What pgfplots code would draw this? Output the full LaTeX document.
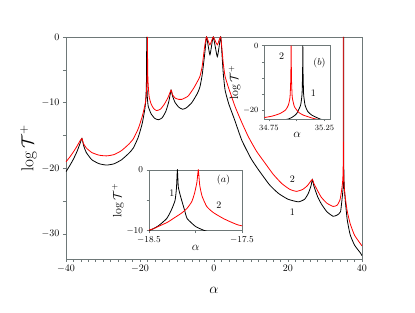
\documentclass[border=0pt]{standalone}
\usepackage{pgfplots}
\usepackage{pgfplotstable}
\pgfplotsset{compat=1.18}
\definecolor{axgray}{RGB}{110,120,120}

\pgfplotstableread{
a T
-40 -20.5
-39 -19.6
-38 -18.6
-37 -17.4
-36.2 -16.2
-35.7 -15.45
-35.2 -16.6
-34.5 -17.6
-33 -18.7
-31 -19.3
-29 -19.5
-27 -19.3
-25 -18.7
-23 -17.7
-21.8 -16.9
-20.5 -15.3
-19.5 -13.4
-19.1 -12.3
-18.7 -11
-18.5 -10
-18.4 -9.2
-18.31 -8.0
-18.26 -6.6
-18.22 -5.0
-18.205 -3.0
-18.195 0
-18.185 -2.8
-18.16 -4.4
-18.12 -6.5
-18.09 -8.0
-18.0 -9.3
-17.9 -10.0
-17.76 -10.6
-17.5 -11.0
-17 -11.7
-16 -12.4
-15 -12.6
-14 -12.3
-13 -11.3
-12.2 -9.8
-11.6 -8.1
-11.2 -9.0
-10.5 -10.0
-9.5 -10.7
-8.5 -11.0
-7.5 -10.8
-6 -10.0
-4.5 -8.6
-3.8 -7.6
-3.2 -5.8
-2.7 -3.5
-2.4 -2.0
-2.0 0
-1.1 -2.7
-0.2 0
0.9 -3.0
1.8 0
2.2 -3.0
2.5 -5.5
3.0 -8.1
4 -10.2
5.5 -12.5
7.5 -15.7
10 -18.5
12 -20.2
15 -22.5
17.4 -23.8
20 -24.7
22.8 -25.1
24.5 -24.7
25.5 -23.8
26.2 -22.7
26.6 -21.7
27 -22.7
28 -24.3
29 -25.4
30.5 -26.6
32.2 -27.3
33.3 -27.1
34.2 -26.6
34.7 -24.2
34.925 -22.8
34.97 -22.0
35.0 -21.1
35.035 -18.5
35.048 -15
35.053 -8
35.055 0
35.057 -8
35.062 -15
35.075 -18.5
35.1 -20.5
35.136 -21.6
35.21 -22.8
35.3 -23.6
35.5 -25
36 -27.8
36.8 -30.1
38 -31.7
39.6 -32.9
40 -33.3
}\blackdata

\pgfplotstableread{
a T
-40 -19.0
-39 -18.3
-38 -17.5
-37 -16.6
-36.3 -15.9
-35.7 -15.45
-35.3 -16.2
-34.5 -16.9
-33 -17.6
-31 -18.0
-29 -18.1
-27 -17.9
-25 -17.3
-23 -16.3
-21.8 -15.5
-20.5 -14.0
-19.5 -12.3
-19 -11.2
-18.5 -9.9
-18.4 -9.3
-18.3 -8.6
-18.24 -8.0
-18.15 -7.1
-18.09 -6.3
-18.04 -5.2
-18.01 -3.8
-17.985 -2
-17.97 0
-17.955 -2.5
-17.93 -4.3
-17.88 -6.0
-17.81 -7.0
-17.70 -8.0
-17.6 -8.7
-17.5 -9.2
-17 -10.2
-16.3 -10.9
-15.5 -11.2
-14.5 -11.0
-13.5 -10.3
-12.5 -9.3
-11.6 -8.1
-11.2 -8.8
-10.5 -9.3
-9.5 -9.5
-8.7 -9.5
-7 -9.0
-5.5 -7.8
-4.5 -6.8
-3.8 -6.0
-3.2 -4.5
-2.7 -2.2
-2.4 -1.0
-2.0 0
-1.1 -1.2
-0.2 0
0.9 -1.2
1.8 0
2.5 -4.0
3.0 -6.0
3.86 -7.6
5.7 -10.6
7.5 -13.0
9.3 -15.2
11.5 -17.4
13.8 -19.2
16 -20.9
18.3 -22.3
20.5 -23.2
22.3 -23.5
24 -23.2
25.3 -22.6
26.2 -21.9
26.6 -21.7
27 -22.3
28 -23.4
29 -24.4
30.5 -25.3
32.2 -25.8
33.3 -25.6
34.05 -24.8
34.5 -23.3
34.7 -22.4
34.78 -21.9
34.85 -21.1
34.9 -20
34.925 -18.5
34.94 -16
34.947 -10
34.95 0
34.953 -10
34.96 -16
34.98 -19
35.02 -20.8
35.06 -21.6
35.12 -22.3
35.17 -22.8
35.3 -23.5
35.5 -24.5
36 -26.5
36.8 -28.4
38 -30.2
40 -31.8
}\reddata

\begin{document}
\begin{tikzpicture}
\path[use as bounding box] (-66pt,-54pt) rectangle (349pt,259pt);
\begin{axis}[
  at={(0pt,0pt)}, anchor=south west,
  scale only axis, width=296pt, height=222pt,
  xmin=-40, xmax=40, ymin=-33.8, ymax=0,
  xtick={-40,-20,0,20,40}, minor x tick num=9,
  ytick={-30,-20,-10,0}, minor y tick num=1,
  tick align=outside, tick pos=left,
  axis line style={axgray, line width=0.8pt},
  every tick/.style={axgray, line width=0.5pt},
  major tick length=3pt, minor tick length=3pt,
  xlabel={\Large $\alpha$}, ylabel={\LARGE $\log\mathcal{T}^{+}$},
  xlabel style={yshift=-8pt}, ylabel style={yshift=-2pt},
  clip=true,
]
\addplot[black, line width=0.8pt, smooth, tension=0.3] table[x=a,y=T] {\blackdata};
\addplot[red, line width=0.8pt, smooth, tension=0.3] table[x=a,y=T] {\reddata};
\node at (axis cs:21.2,-21.6) {2};
\node at (axis cs:21.2,-26.6) {1};
\end{axis}

% inset (a)
\begin{axis}[
  at={(83pt,28.3pt)}, anchor=south west,
  scale only axis, width=93pt, height=60.7pt,
  xmin=-18.5, xmax=-17.5, ymin=-10, ymax=0,
  xtick={-18.5,-18,-17.5}, xticklabels={$-18.5$,,$-17.5$},
  ytick={-10,-5,0}, yticklabels={$-10$,,$0$},
  tick align=outside, tick pos=left,
  axis line style={axgray, line width=0.8pt},
  every tick/.style={axgray, line width=0.5pt},
  major tick length=2.5pt,
  tick label style={font=\small},
  axis background/.style={fill=white},
  xlabel={\large $\alpha$}, ylabel={\large $\log\mathcal{T}^{+}$},
  xlabel style={yshift=5pt}, ylabel style={yshift=-4pt},
  clip=true,
]
\addplot[black, line width=0.8pt, smooth, tension=0.3] table[x=a,y=T] {\blackdata};
\addplot[red, line width=0.8pt, smooth, tension=0.3] table[x=a,y=T] {\reddata};
\node at (axis cs:-18.255,-3.84) {1};
\node at (axis cs:-17.75,-5.77) {2};
\node at (axis cs:-17.70,-1.65) {$(a)$};
\end{axis}

% inset (b)
\begin{axis}[
  at={(198.3pt,140pt)}, anchor=south west,
  scale only axis, width=65.7pt, height=73.3pt,
  xmin=34.71, xmax=35.30, ymin=-22.8, ymax=0,
  xtick={34.75,35,35.25}, xticklabels={$34.75$,,$35.25$},
  ytick={-20,-15,-10,-5,0}, yticklabels={$-20$,,,,$0$},
  tick align=outside, tick pos=left,
  axis line style={axgray, line width=0.8pt},
  every tick/.style={axgray, line width=0.5pt},
  major tick length=2.5pt,
  tick label style={font=\footnotesize},
  axis background/.style={fill=white},
  xlabel={\large $\alpha$}, ylabel={\large $\log\mathcal{T}^{+}$},
  xlabel style={yshift=5pt}, ylabel style={yshift=-4pt},
  clip=true,
]
\addplot[black, line width=0.8pt, smooth, tension=0.3] table[x=a,y=T] {\blackdata};
\addplot[red, line width=0.8pt, smooth, tension=0.3] table[x=a,y=T] {\reddata};
\node at (axis cs:34.865,-3.4) {2};
\node at (axis cs:35.15,-14.9) {1};
\node at (axis cs:35.205,-5.5) {$(b)$};
\end{axis}
\end{tikzpicture}
\end{document}
